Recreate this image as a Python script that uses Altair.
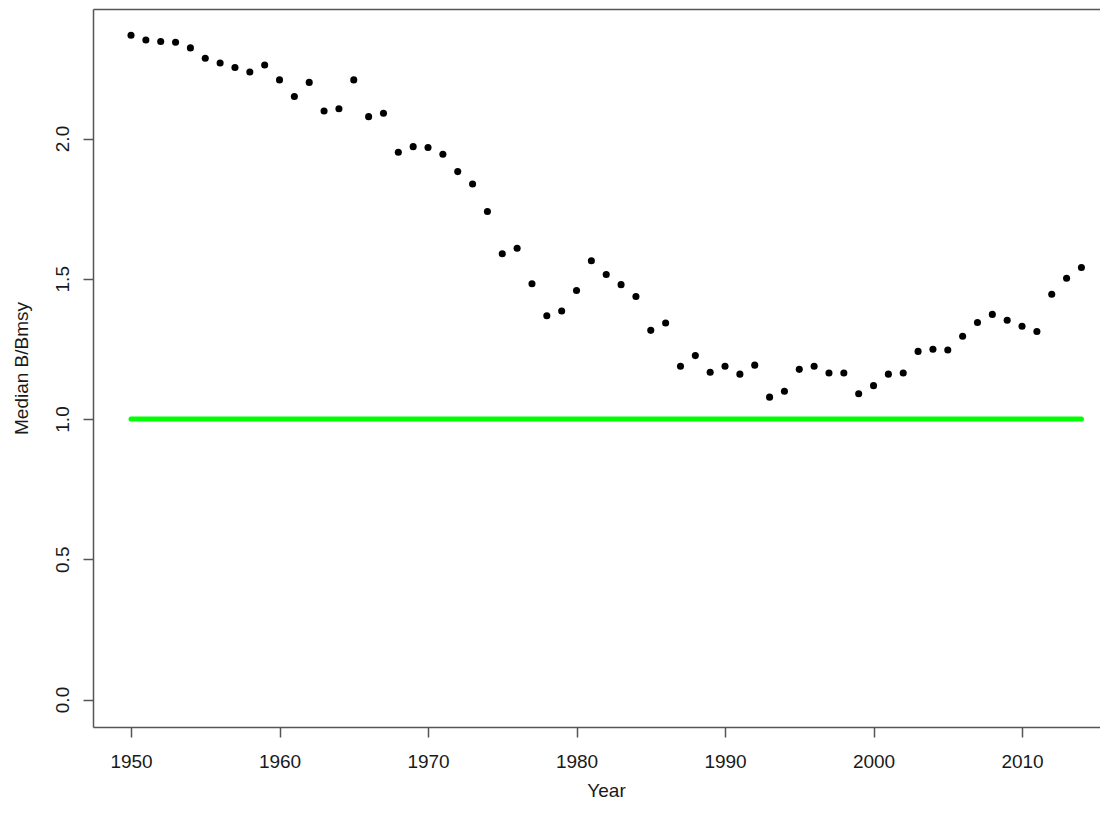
import altair as alt
import pandas as pd

# ---- data ----
years = list(range(1950, 2015))
median_b_bmsy = [
    2.368, 2.351, 2.346, 2.343, 2.323, 2.286, 2.269, 2.253, 2.237, 2.262,
    2.209, 2.150, 2.200, 2.098, 2.106, 2.209, 2.078, 2.090, 1.951, 1.971,
    1.968, 1.944, 1.882, 1.838, 1.740, 1.589, 1.609, 1.482, 1.368, 1.385,
    1.458, 1.564, 1.515, 1.479, 1.437, 1.316, 1.342, 1.188, 1.226, 1.167,
    1.188, 1.160, 1.192, 1.078, 1.099, 1.177, 1.188, 1.164, 1.164, 1.090,
    1.119, 1.160, 1.164, 1.241, 1.249, 1.246, 1.295, 1.344, 1.373, 1.352,
    1.331, 1.312, 1.445, 1.502, 1.540,
]
ref_start = [1950]
ref_end = [2014]
ref_level = [1.0]
x_ticks = [1950, 1960, 1970, 1980, 1990, 2000, 2010]
y_ticks = [0.0, 0.5, 1.0, 1.5, 2.0]

x_domain = [1947.44, 2015.25]
y_domain = [-0.098, 2.4617]

pts = pd.DataFrame({"Year": years, "Value": median_b_bmsy})
ref = pd.DataFrame({"Year": ref_start, "Year2": ref_end, "Value": ref_level})

FONT = "Liberation Sans"
TXT = "#1a1a1a"
AX = "#555555"
FS = 19

xs = alt.Scale(domain=x_domain, nice=False, zero=False)
ys = alt.Scale(domain=y_domain, nice=False, zero=False)

x_axis = alt.Axis(
    values=x_ticks, format="d", grid=False,
    tickSize=10, tickColor=AX, tickWidth=1.5,
    domainColor=AX, domainWidth=1.5,
    labelFont=FONT, labelFontSize=FS, labelColor=TXT, labelPadding=15,
    labelFlush=False, labelOverlap=False,
    title="Year", titleFont=FONT, titleFontSize=FS, titleFontWeight="normal",
    titleColor=TXT, titleX=513, titleY=69, titleBaseline="alphabetic",
    titleAlign="center",
)
y_axis = alt.Axis(
    values=y_ticks, format=".1f", grid=False,
    tickSize=10, tickColor=AX, tickWidth=1.5,
    domainColor=AX, domainWidth=1.5,
    labelFont=FONT, labelFontSize=FS, labelColor=TXT, labelPadding=15,
    labelAngle=270, labelAlign="center", labelBaseline="alphabetic",
    labelFlush=False, labelOverlap=False,
    title="Median B/Bmsy", titleFont=FONT, titleFontSize=FS,
    titleFontWeight="normal", titleColor=TXT, titleAngle=270,
    titleX=-66, titleY=359, titleBaseline="alphabetic", titleAlign="center",
)
top_axis = alt.Axis(
    orient="top", labels=False, ticks=False, grid=False, title=None,
    domain=True, domainColor=AX, domainWidth=1.5,
)

line = alt.Chart(ref).mark_rule(color="#00ff00", strokeWidth=5, strokeCap="round").encode(
    x=alt.X("Year:Q", scale=xs, axis=None),
    x2="Year2:Q",
    y=alt.Y("Value:Q", scale=ys, axis=y_axis),
)

points = alt.Chart(pts).mark_circle(size=50, color="black", opacity=1).encode(
    x=alt.X("Year:Q", scale=xs, axis=x_axis),
    y=alt.Y("Value:Q", scale=ys, axis=y_axis),
)

top = alt.Chart(pts).mark_circle(opacity=0).encode(
    x=alt.X("Year:Q", scale=xs, axis=top_axis),
    y=alt.Y("Value:Q", scale=ys, axis=y_axis),
)

chart = (
    alt.layer(line, points, top)
    .resolve_scale(x="independent")
    .resolve_axis(x="independent")
    .properties(
        width=1007,
        height=718,
        autosize=alt.AutoSizeParams(type="none"),
        padding={"left": 85, "top": 1, "right": 0, "bottom": 75},
        background="white",
    )
    .configure_view(stroke=None)
)

chart.save("out.html", embed_options={"renderer": "svg", "actions": False})
